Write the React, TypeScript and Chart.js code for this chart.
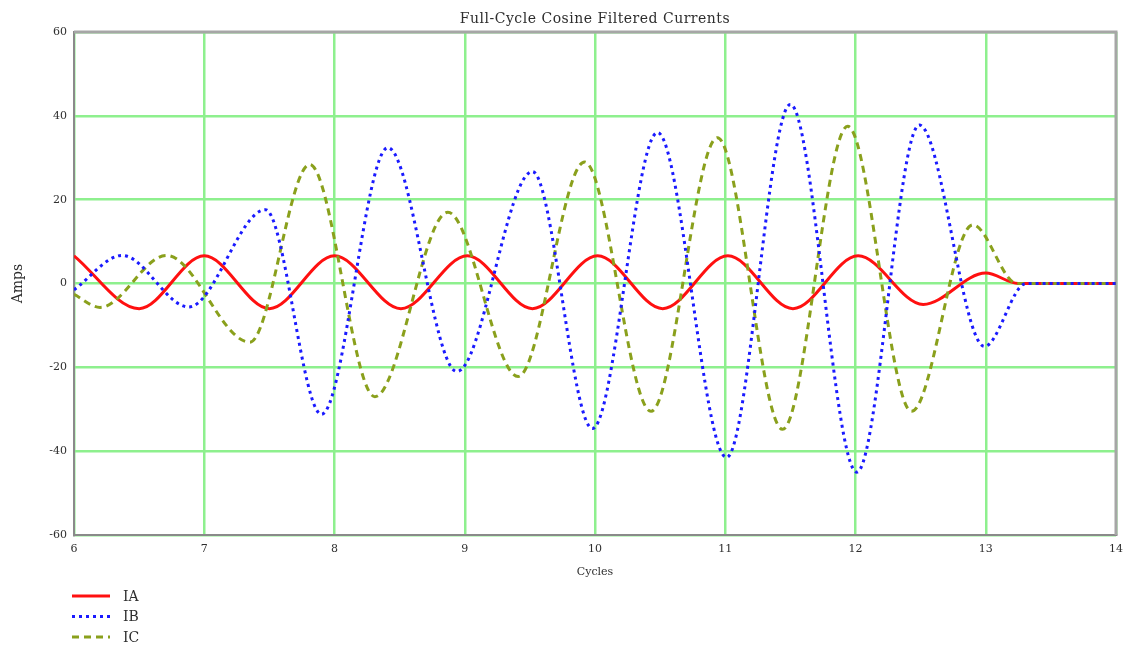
import { useEffect, useRef } from "react";
import { Chart, registerables } from "chart.js";

Chart.register(...registerables);

const TITLE = "Full-Cycle Cosine Filtered Currents";
const X_LABEL = "Cycles";
const Y_LABEL = "Amps";
const SERIES_NAMES = ["IA", "IB", "IC"];
const X_MIN = 6;
const X_MAX = 14;
const X_STEP = 1;
const Y_MIN = -60;
const Y_MAX = 60;
const Y_STEP = 20;

// IA (red, solid) – extrema
const iaCycles = [6.0, 6.5, 7.0, 7.5, 8.0, 8.51, 9.02, 9.52, 10.02, 10.52, 11.02, 11.52, 12.02, 12.52, 13.0, 13.25, 14.0];
const iaAmps = [6.6, -6.0, 6.6, -6.0, 6.6, -6.0, 6.6, -6.0, 6.6, -6.0, 6.6, -6.0, 6.6, -5.0, 2.5, 0, 0];

// IB (blue, dotted)
const ibCycles = [6.0, 6.37, 6.88, 7.47, 7.9, 8.41, 8.94, 9.52, 9.98, 10.48, 11.01, 11.5, 12.01, 12.49, 12.99, 13.31, 14.0];
const ibAmps = [-1.5, 6.7, -5.6, 17.6, -31.2, 32.4, -21.0, 26.7, -34.6, 36.0, -41.5, 42.7, -45.0, 37.8, -15.0, 0, 0];

// IC (olive, dashed)
const icCycles = [6.0, 6.2, 6.71, 7.35, 7.81, 8.31, 8.87, 9.41, 9.92, 10.43, 10.94, 11.44, 11.94, 12.43, 12.9, 13.24, 14.0];
const icAmps = [-2.6, -5.7, 6.7, -14.0, 28.4, -27.0, 17.0, -22.2, 29.0, -30.5, 34.8, -34.8, 37.5, -30.5, 14.0, 0, 0];

const SERIES_COLORS = ["#ff1010", "#1a1aff", "#8aa01c"];
const SERIF = "'DejaVu Serif', 'Liberation Serif', serif";
const TEXT_COLOR = "#2e2e2e";

function toPoints(xs: number[], ys: number[]) {
  return xs.map((x, i) => ({ x, y: ys[i] }));
}

const decorPlugin = {
  id: "decor",
  beforeDatasetsDraw(chart: any) {
    const { ctx, chartArea } = chart;
    ctx.save();
    ctx.strokeStyle = "#a6a6a6";
    ctx.lineWidth = 3;
    ctx.beginPath();
    ctx.moveTo(chartArea.left, chartArea.top);
    ctx.lineTo(chartArea.right, chartArea.top);
    ctx.lineTo(chartArea.right, chartArea.bottom);
    ctx.stroke();
    ctx.restore();
  },
  afterDraw(chart: any) {
    const { ctx, chartArea } = chart;
    const cx = (chartArea.left + chartArea.right) / 2;
    ctx.save();
    ctx.fillStyle = TEXT_COLOR;
    ctx.textAlign = "center";
    ctx.textBaseline = "middle";
    // title
    ctx.save();
    ctx.font = `14px ${SERIF}`;
    (ctx as any).letterSpacing = "0.5px";
    ctx.fillText(TITLE, cx, 19);
    ctx.restore();
    // x label
    ctx.font = `11px ${SERIF}`;
    ctx.fillText(X_LABEL, cx, 572);
    // y label
    ctx.save();
    ctx.translate(18, (chartArea.top + chartArea.bottom) / 2);
    ctx.rotate(-Math.PI / 2);
    ctx.font = `14px ${SERIF}`;
    ctx.fillText(Y_LABEL, 0, 0);
    ctx.restore();
    // legend
    chart.data.datasets.forEach((ds: any, i: number) => {
      const y = 596 + i * 20.5;
      ctx.save();
      ctx.strokeStyle = ds.borderColor;
      ctx.lineWidth = ds.borderWidth;
      ctx.setLineDash(ds.borderDash || []);
      ctx.beginPath();
      ctx.moveTo(72, y);
      ctx.lineTo(110, y);
      ctx.stroke();
      ctx.restore();
      ctx.font = `14px ${SERIF}`;
      ctx.textAlign = "left";
      ctx.textBaseline = "middle";
      ctx.fillStyle = TEXT_COLOR;
      ctx.fillText(ds.label, 123, y + 1);
    });
    ctx.restore();
  },
};

export default function App() {
  const canvasRef = useRef<HTMLCanvasElement | null>(null);

  useEffect(() => {
    if (!canvasRef.current) return;
    const chart = new Chart(canvasRef.current, {
      type: "line",
      data: {
        datasets: [
          {
            label: SERIES_NAMES[0],
            data: toPoints(iaCycles, iaAmps),
            borderColor: SERIES_COLORS[0],
            borderWidth: 3,
            pointRadius: 0,
            cubicInterpolationMode: "monotone",
            order: 3,
          },
          {
            label: SERIES_NAMES[1],
            data: toPoints(ibCycles, ibAmps),
            borderColor: SERIES_COLORS[1],
            borderWidth: 3,
            borderDash: [3, 4],
            pointRadius: 0,
            cubicInterpolationMode: "monotone",
            order: 1,
          },
          {
            label: SERIES_NAMES[2],
            data: toPoints(icCycles, icAmps),
            borderColor: SERIES_COLORS[2],
            borderWidth: 3,
            borderDash: [7, 5],
            pointRadius: 0,
            cubicInterpolationMode: "monotone",
            order: 2,
          },
        ],
      },
      options: {
        animation: false,
        responsive: false,
        events: [],
        layout: { padding: { top: 32, right: 18, left: 0, bottom: 0 } },
        plugins: {
          legend: { display: false },
          title: { display: false },
          tooltip: { enabled: false },
        },
        scales: {
          x: {
            type: "linear",
            min: X_MIN,
            max: X_MAX,
            ticks: {
              stepSize: X_STEP,
              padding: 8,
              color: TEXT_COLOR,
              font: { family: SERIF, size: 11 },
            },
            grid: { color: "#8ef08e", lineWidth: 2.5, drawTicks: false },
            border: { display: true, color: "#8a8a8a", width: 2 },
            afterFit: (scale: any) => {
              scale.height = 112;
            },
          },
          y: {
            type: "linear",
            min: Y_MIN,
            max: Y_MAX,
            ticks: {
              stepSize: Y_STEP,
              padding: 7,
              color: TEXT_COLOR,
              font: { family: SERIF, size: 11 },
            },
            grid: { color: "#8ef08e", lineWidth: 2.5, drawTicks: false },
            border: { display: true, color: "#8a8a8a", width: 2 },
            afterFit: (scale: any) => {
              scale.width = 74;
            },
          },
        },
      },
      plugins: [decorPlugin],
    } as any);
    return () => chart.destroy();
  }, []);

  return (
    <div style={{ position: "absolute", left: 0, top: 0, width: 1134, height: 647, background: "#fff" }}>
      <canvas ref={canvasRef} width={1134} height={647} style={{ display: "block" }} />
    </div>
  );
}
